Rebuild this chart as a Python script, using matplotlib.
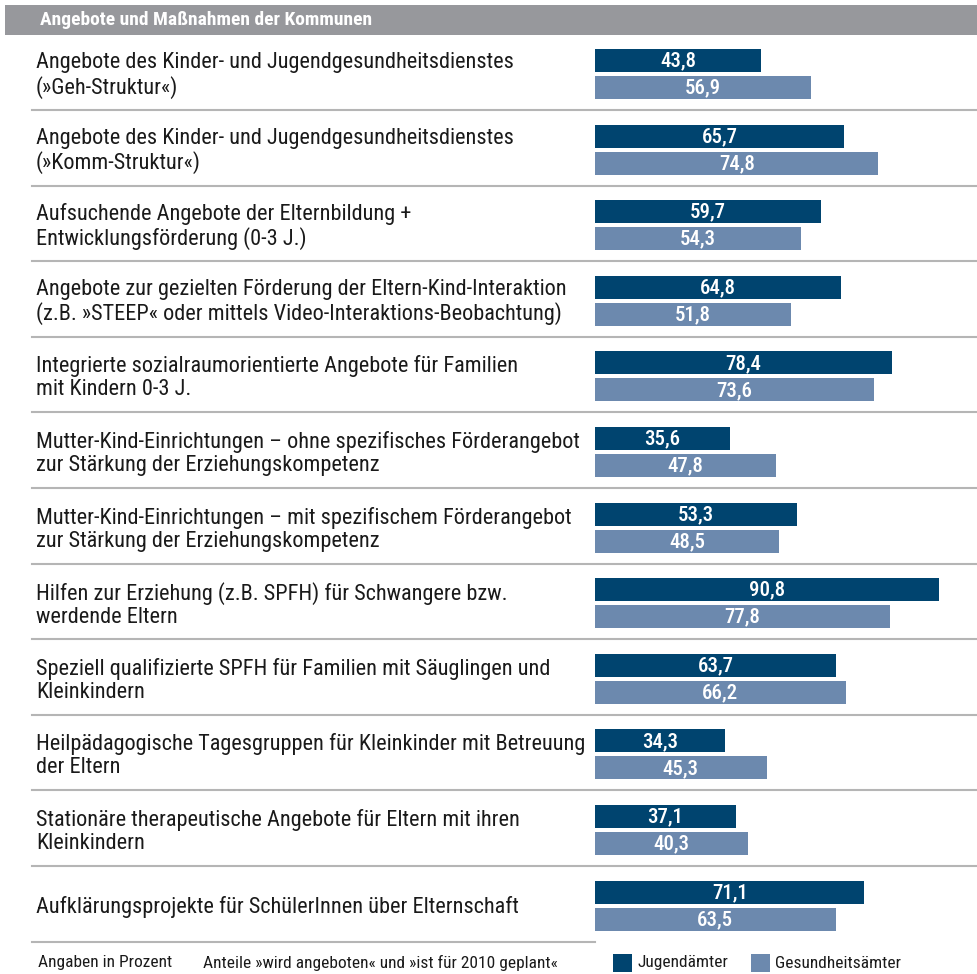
import matplotlib
matplotlib.use("Agg")
import matplotlib.pyplot as plt
from matplotlib.lines import Line2D
from matplotlib.patches import Rectangle

# ── Daten ─────────────────────────────────────────────────────────────
kategorien = [
    "Angebote des Kinder- und Jugendgesundheitsdienstes\n(»Geh-Struktur«)",
    "Angebote des Kinder- und Jugendgesundheitsdienstes\n(»Komm-Struktur«)",
    "Aufsuchende Angebote der Elternbildung +\nEntwicklungsförderung (0-3 J.)",
    "Angebote zur gezielten Förderung der Eltern-Kind-Interaktion\n(z.B. »STEEP« oder mittels Video-Interaktions-Beobachtung)",
    "Integrierte sozialraumorientierte Angebote für Familien\nmit Kindern 0-3 J.",
    "Mutter-Kind-Einrichtungen – ohne spezifisches Förderangebot\nzur Stärkung der Erziehungskompetenz",
    "Mutter-Kind-Einrichtungen – mit spezifischem Förderangebot\nzur Stärkung der Erziehungskompetenz",
    "Hilfen zur Erziehung (z.B. SPFH) für Schwangere bzw.\nwerdende Eltern",
    "Speziell qualifizierte SPFH für Familien mit Säuglingen und\nKleinkindern",
    "Heilpädagogische Tagesgruppen für Kleinkinder mit Betreuung\nder Eltern",
    "Stationäre therapeutische Angebote für Eltern mit ihren\nKleinkindern",
    "Aufklärungsprojekte für SchülerInnen über Elternschaft",
]
jugendaemter = [43.8, 65.7, 59.7, 64.8, 78.4, 35.6, 53.3, 90.8, 63.7, 34.3, 37.1, 71.1]
gesundheitsaemter = [56.9, 74.8, 54.3, 51.8, 73.6, 47.8, 48.5, 77.8, 66.2, 45.3, 40.3, 63.5]

titel = "Angebote und Maßnahmen der Kommunen"
fuss_links = "Angaben in Prozent"
fuss_mitte = "Anteile »wird angeboten« und »ist für 2010 geplant«"
serien = ["Jugendämter", "Gesundheitsämter"]

# ── Stil ──────────────────────────────────────────────────────────────
DUNKEL = "#00446f"
HELL = "#6c89ae"
GRAU = "#97989c"
LINIE = "#b5b5b5"
TEXT = "#1a1a1a"
FONT = ["Roboto Condensed", "DejaVu Sans"]

W, H = 978, 974
fig = plt.figure(figsize=(W / 100, H / 100), dpi=100)
fig.patch.set_facecolor("white")


def fx(px):
    return px / W


def fy(py):
    return 1 - py / H


# Kopfbalken
fig.patches.append(Rectangle((fx(5), fy(35)), fx(973), 30 / H,
                             transform=fig.transFigure, facecolor=GRAU,
                             edgecolor="none", zorder=0))
fig.text(fx(40), fy(20), titel, color="white", fontsize=14,
         fontweight="bold", family=FONT, va="center", ha="left")

# Balken-Achse (y in Pixelkoordinaten)
ax = fig.add_axes([fx(595), 0, 379 / W, 1])
ax.set_xlim(0, 100)
ax.set_ylim(H, 0)
ax.axis("off")

y0, pitch, bh, off = 74, 75.6, 23, 13.5
for i, (lab, j, g) in enumerate(zip(kategorien, jugendaemter, gesundheitsaemter)):
    yc = y0 + pitch * i
    ax.barh(yc - off, j, height=bh, color=DUNKEL, align="center")
    ax.barh(yc + off, g, height=bh, color=HELL, align="center")
    for val, yy in ((j, yc - off), (g, yc + off)):
        ax.text(val / 2, yy + 0.5, f"{val:.1f}".replace(".", ","), color="white",
                fontsize=15, fontweight="medium", family=FONT,
                ha="center", va="center")
    fig.text(fx(36), fy(yc + 1.5), lab, fontsize=16, family=FONT, color=TEXT,
             ha="left", va="center", linespacing=1.12)
    # Trennlinie
    ly = 110 + pitch * i
    x1 = 978 if i < len(kategorien) - 1 else 595
    fig.add_artist(Line2D([fx(32), fx(x1)], [fy(ly), fy(ly)],
                          color=LINIE, lw=1.5, transform=fig.transFigure))

# Fußzeile
fy_txt = fy(963)
fig.text(fx(38), fy_txt, fuss_links, fontsize=12.5, family=FONT,
         color=TEXT, va="center")
fig.text(fx(203), fy_txt, fuss_mitte, fontsize=12.5, family=FONT,
         color=TEXT, va="center")
for x_sq, farbe, name in ((613, DUNKEL, serien[0]), (751, HELL, serien[1])):
    fig.patches.append(Rectangle((fx(x_sq), fy(972)), fx(19), 18 / H,
                                 transform=fig.transFigure, facecolor=farbe,
                                 edgecolor="none"))
    fig.text(fx(x_sq + 24), fy_txt, name, fontsize=12.5, family=FONT,
             color=TEXT, va="center")

fig.savefig("out.png", dpi=100)
